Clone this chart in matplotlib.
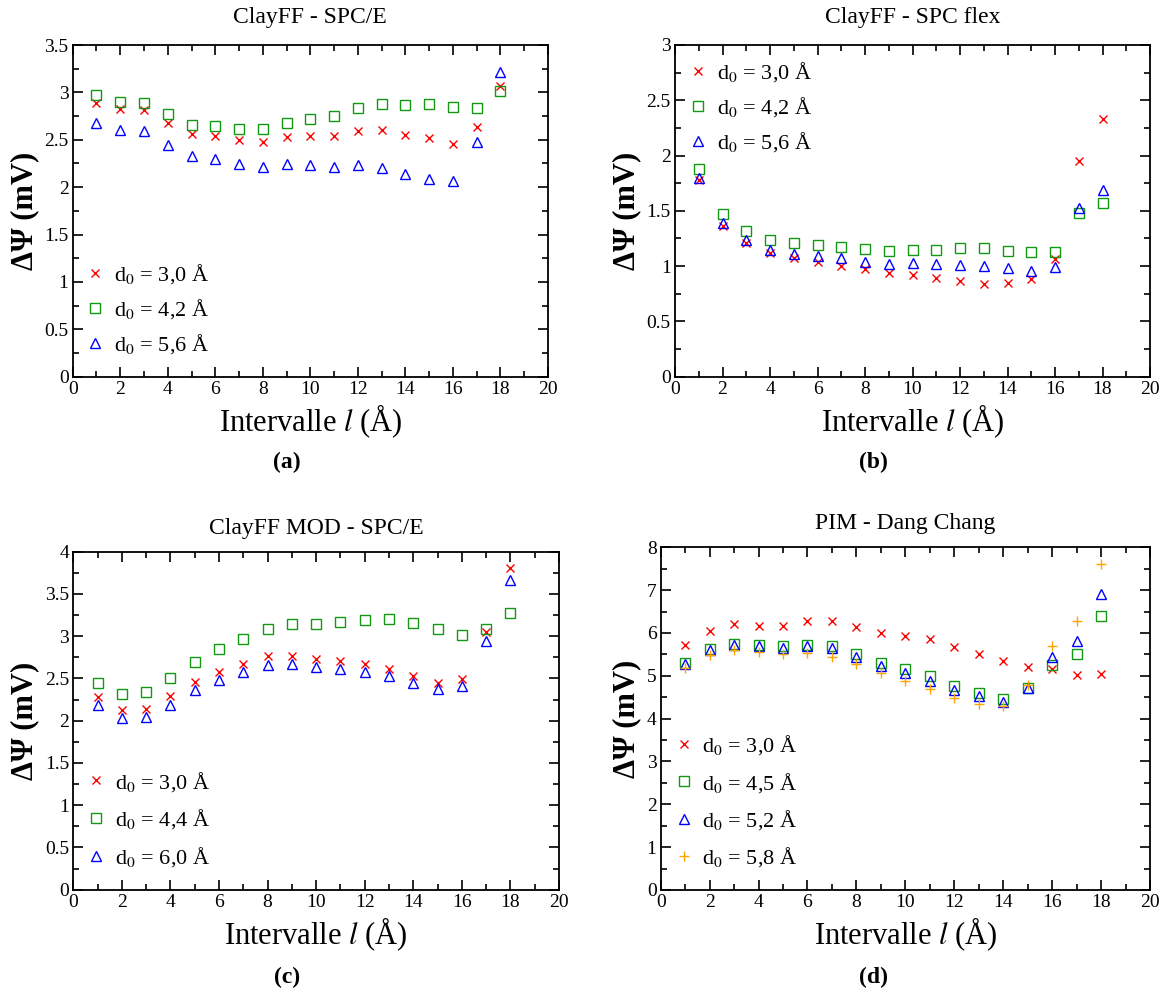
import matplotlib
matplotlib.use("Agg")
import matplotlib.pyplot as plt
from matplotlib.ticker import MultipleLocator, FormatStrFormatter
import numpy as np

plt.rcParams['font.family'] = ['Liberation Serif', 'DejaVu Serif']
plt.rcParams['mathtext.fontset'] = 'stix'

# interval l (angstrom)
l18 = np.arange(1, 19)

# (a) ClayFF - SPC/E
a_d30 = [2.89, 2.82, 2.81, 2.68, 2.56, 2.54, 2.50, 2.48, 2.53, 2.54, 2.54, 2.59, 2.60, 2.55, 2.52, 2.46, 2.63, 3.07]
a_d42 = [2.97, 2.90, 2.89, 2.77, 2.66, 2.65, 2.61, 2.61, 2.68, 2.72, 2.75, 2.83, 2.88, 2.87, 2.88, 2.85, 2.84, 3.01]
a_d56 = [2.68, 2.60, 2.59, 2.45, 2.33, 2.30, 2.24, 2.21, 2.24, 2.23, 2.21, 2.23, 2.20, 2.14, 2.09, 2.06, 2.48, 3.22]

# (b) ClayFF - SPC flex
b_d30 = [1.78, 1.36, 1.21, 1.12, 1.07, 1.04, 1.00, 0.97, 0.94, 0.92, 0.89, 0.87, 0.84, 0.85, 0.88, 1.06, 1.95, 2.33]
b_d42 = [1.875, 1.47, 1.32, 1.24, 1.21, 1.19, 1.17, 1.155, 1.14, 1.15, 1.15, 1.16, 1.165, 1.14, 1.125, 1.125, 1.48, 1.57]
b_d56 = [1.80, 1.39, 1.24, 1.15, 1.11, 1.09, 1.07, 1.04, 1.02, 1.025, 1.015, 1.01, 1.00, 0.98, 0.96, 0.99, 1.525, 1.685]

# (c) ClayFF MOD - SPC/E
c_d30 = [2.28, 2.13, 2.14, 2.29, 2.46, 2.58, 2.67, 2.76, 2.765, 2.73, 2.71, 2.67, 2.61, 2.53, 2.45, 2.49, 3.05, 3.81]
c_d44 = [2.45, 2.32, 2.34, 2.50, 2.70, 2.845, 2.97, 3.09, 3.14, 3.14, 3.17, 3.19, 3.20, 3.16, 3.09, 3.02, 3.085, 3.28]
c_d60 = [2.18, 2.03, 2.04, 2.19, 2.36, 2.48, 2.58, 2.66, 2.67, 2.64, 2.615, 2.58, 2.53, 2.45, 2.38, 2.41, 2.94, 3.66]

# (d) PIM - Dang Chang
d_d30 = [5.72, 6.05, 6.20, 6.17, 6.17, 6.28, 6.28, 6.15, 6.01, 5.93, 5.85, 5.68, 5.51, 5.35, 5.21, 5.16, 5.02, 5.05]
d_d45 = [5.31, 5.62, 5.75, 5.72, 5.69, 5.72, 5.69, 5.51, 5.31, 5.16, 4.99, 4.77, 4.59, 4.45, 4.72, 5.26, 5.52, 6.40]
d_d52 = [5.28, 5.60, 5.73, 5.69, 5.65, 5.70, 5.65, 5.44, 5.23, 5.06, 4.87, 4.68, 4.52, 4.39, 4.71, 5.44, 5.82, 6.90]
d_d58 = [5.18, 5.48, 5.61, 5.55, 5.51, 5.53, 5.45, 5.27, 5.06, 4.88, 4.69, 4.49, 4.34, 4.30, 4.79, 5.70, 6.28, 7.61]

RED = '#ff0000'
GREEN = '#119911'
BLUE = '#0000ff'
ORANGE = '#ffa500'

styles = {
    'x': dict(marker='x', color=RED, ms=5.5, mew=1.0),
    's': dict(marker='s', mfc='none', mec=GREEN, ms=6.5, mew=1.0),
    '^': dict(marker='^', mfc='none', mec=BLUE, ms=7, mew=1.0),
    '+': dict(marker='+', color=ORANGE, ms=7, mew=1.0),
}

W, H = 1172, 994
fig = plt.figure(figsize=(W / 100, H / 100), dpi=100)


def make_axes(left, right, top, bottom):
    return fig.add_axes([left / W, 1 - bottom / H, (right - left) / W, (bottom - top) / H])


def style_axes(ax, ymax, ymajor, title, title_pad):
    ax.set_xlim(0, 20)
    ax.set_ylim(0, ymax)
    ax.xaxis.set_major_locator(MultipleLocator(2))
    ax.xaxis.set_minor_locator(MultipleLocator(1))
    ax.yaxis.set_major_locator(MultipleLocator(ymajor))
    ax.yaxis.set_minor_locator(MultipleLocator(ymajor / 2))
    ax.yaxis.set_major_formatter(FormatStrFormatter('%g'))
    ax.tick_params(which='both', direction='in', top=True, right=True, labelsize=14, width=1.2)
    ax.tick_params(which='major', length=7, pad=3)
    ax.tick_params(which='minor', length=4)
    for s in ax.spines.values():
        s.set_linewidth(1.3)
    ax.set_xlabel('Intervalle $l$ (Å)', fontsize=22, labelpad=3)
    ax.set_ylabel('ΔΨ (mV)', fontsize=22, fontweight='bold', labelpad=4)
    ax.set_title(title, fontsize=17, pad=title_pad)


def draw(ax, series, legend_kw, spacing):
    for y, key, lab in series:
        ax.plot(l18, y, ls='none', label=lab, **styles[key])
    ax.legend(frameon=False, fontsize=16, handlelength=0.6, handletextpad=0.55,
              labelspacing=spacing, borderaxespad=0, **legend_kw)


ax_a = make_axes(72.7, 548, 45, 376.7)
style_axes(ax_a, 3.5, 0.5, 'ClayFF - SPC/E', 16)
draw(ax_a, [(a_d30, 'x', 'd$_0$ = 3,0 Å'), (a_d42, 's', 'd$_0$ = 4,2 Å'),
            (a_d56, '^', 'd$_0$ = 5,6 Å')],
     dict(loc='lower left', bbox_to_anchor=(0.015, 0.035)), 0.5)

ax_b = make_axes(675, 1150, 45, 376.7)
style_axes(ax_b, 3, 0.5, 'ClayFF - SPC flex', 16)
draw(ax_b, [(b_d30, 'x', 'd$_0$ = 3,0 Å'), (b_d42, 's', 'd$_0$ = 4,2 Å'),
            (b_d56, '^', 'd$_0$ = 5,6 Å')],
     dict(loc='upper left', bbox_to_anchor=(0.015, 0.98)), 0.5)

ax_c = make_axes(73.3, 559, 551.7, 889.7)
style_axes(ax_c, 4, 0.5, 'ClayFF MOD - SPC/E', 13)
draw(ax_c, [(c_d30, 'x', 'd$_0$ = 3,0 Å'), (c_d44, 's', 'd$_0$ = 4,4 Å'),
            (c_d60, '^', 'd$_0$ = 6,0 Å')],
     dict(loc='lower left', bbox_to_anchor=(0.015, 0.035)), 0.62)

ax_d = make_axes(660.7, 1150, 547.3, 890)
style_axes(ax_d, 8, 1, 'PIM - Dang Chang', 13)
draw(ax_d, [(d_d30, 'x', 'd$_0$ = 3,0 Å'), (d_d45, 's', 'd$_0$ = 4,5 Å'),
            (d_d52, '^', 'd$_0$ = 5,2 Å'), (d_d58, '+', 'd$_0$ = 5,8 Å')],
     dict(loc='lower left', bbox_to_anchor=(0.015, 0.035)), 0.6)

for lab, x, y in [('(a)', 287, 462), ('(b)', 873, 462), ('(c)', 287, 977), ('(d)', 873, 977)]:
    fig.text(x / W, 1 - y / H, lab, ha='center', va='center', fontsize=17, fontweight='bold')

fig.savefig('out.png', dpi=100)
